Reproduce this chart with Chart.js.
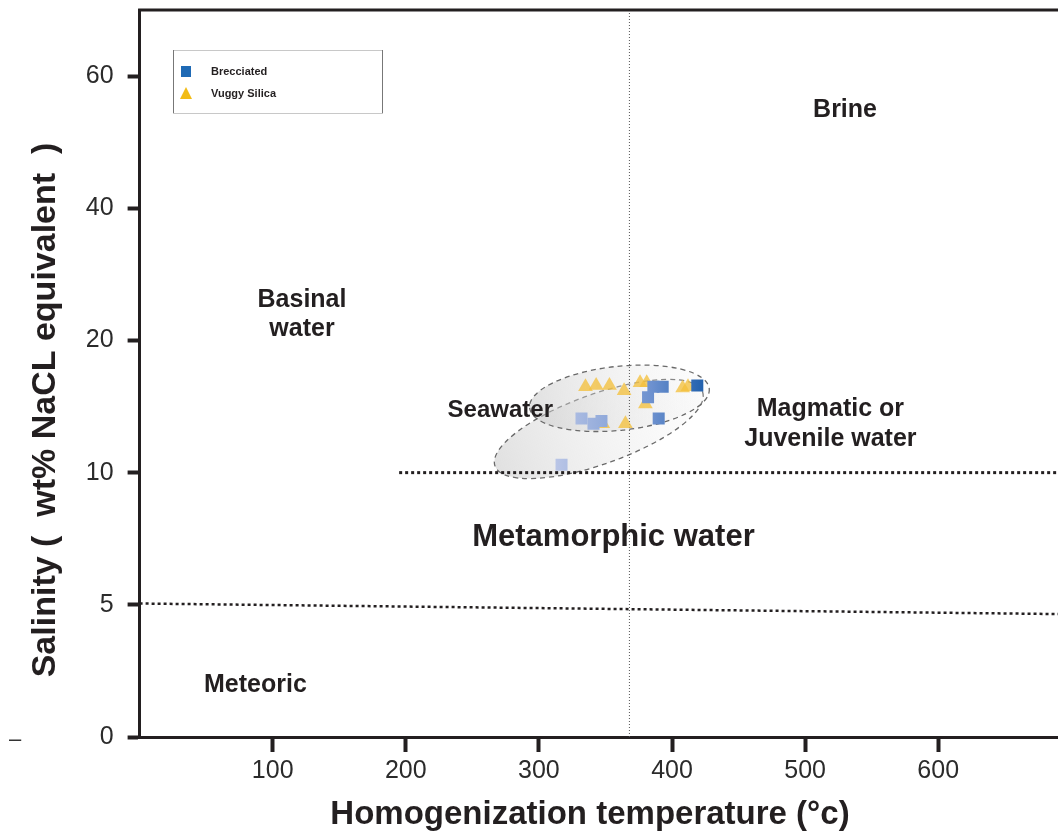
<!DOCTYPE html>
<html>
<head>
<meta charset="utf-8">
<script src="https://cdn.jsdelivr.net/npm/chart.js@4.4.1/dist/chart.umd.min.js"></script>
<style>
  html, body { margin: 0; padding: 0; background: #fff; }
  #wrap { width: 1058px; height: 836px; }
</style>
</head>
<body>
<div id="wrap"><canvas id="fluidChart" width="1058" height="836"></canvas></div>
<script>
// salinity axis is stretched: these ticks sit at equal spacing
const salinityTicks = [0, 5, 10, 20, 40, 60];
const tempTicks     = [100, 200, 300, 400, 500, 600];

// fluid inclusion data (Th in degC, salinity wt% NaCl eq.)
const brecciatedTemp = [317, 332, 341, 347, 382, 386, 393, 390, 419];
const brecciatedSal  = [10.6, 14.1, 13.7, 13.9, 15.7, 16.5, 16.5, 14.1, 16.6];
const vuggyTemp = [335, 343, 353, 364, 376, 381, 380, 348, 365, 408, 412];
const vuggySal  = [16.5, 16.6, 16.6, 16.2, 16.8, 16.8, 15.2, 13.7, 13.7, 16.4, 16.5];

// field boundaries
const line10Temp = [195, 690];
const line10Sal  = [10, 10];
const line5Temp  = [0, 690];
const line5Sal   = [5.05, 4.65];
const splitTemp  = [368, 368];
const splitSal   = [0, 70];

const FONT = 'Arial, "Liberation Sans", Helvetica, sans-serif';
const INK = '#231f20';

function salToIdx(s) {
  const t = salinityTicks;
  for (let i = 0; i < t.length - 1; i++) {
    if (s <= t[i + 1] || i === t.length - 2) return i + (s - t[i]) / (t[i + 1] - t[i]);
  }
}
const pts = (xs, ys) => xs.map((x, i) => ({ x, y: salToIdx(ys[i]) }));

// seawater fields: ends in data units, half width in px
const fields = [
  { a: [267, 10.5], b: [423, 16.1], half: 35 },
  { a: [293, 14.9], b: [428, 16.35], half: 32 }
];

const notes = [
  { text: 'Brine', t: 530, s: 54.8, size: 25 },
  { text: 'Basinal', t: 122, s: 26.1, size: 25 },
  { text: 'water', t: 122, s: 21.7, size: 25 },
  { text: 'Seawater', t: 271, s: 14.7, size: 24 },
  { text: 'Magmatic or', t: 519, s: 14.8, size: 25 },
  { text: 'Juvenile water', t: 519, s: 12.5, size: 25 },
  { text: 'Metamorphic water', t: 356, s: 7.56, size: 31 },
  { text: 'Meteoric', t: 87, s: 1.97, size: 25 }
];

function squareFill(c) {
  const xs = c.chart.scales.x;
  const a = xs ? xs.getPixelForValue(310) : NaN;
  const b = xs ? xs.getPixelForValue(425) : NaN;
  if (!isFinite(a) || !isFinite(b) || a === b) return '#5a86c8';
  const g = c.chart.ctx.createLinearGradient(a, 0, b, 0);
  g.addColorStop(0, '#bcc7e7');
  g.addColorStop(0.65, '#6d91cf');
  g.addColorStop(1, '#1f5fac');
  return g;
}

const decor = {
  id: 'decor',
  beforeDatasetsDraw(chart) {
    const { ctx, chartArea, scales: { x, y } } = chart;
    ctx.save();
    ctx.beginPath();
    ctx.rect(chartArea.left, chartArea.top, chartArea.right - chartArea.left, chartArea.bottom - chartArea.top);
    ctx.clip();
    fields.forEach(f => {
      const x1 = x.getPixelForValue(f.a[0]), y1 = y.getPixelForValue(salToIdx(f.a[1]));
      const x2 = x.getPixelForValue(f.b[0]), y2 = y.getPixelForValue(salToIdx(f.b[1]));
      const cx = (x1 + x2) / 2, cy = (y1 + y2) / 2;
      const r = Math.hypot(x2 - x1, y2 - y1) / 2;
      const ang = Math.atan2(y2 - y1, x2 - x1);
      const g = ctx.createLinearGradient(x1, y1, x2, y2);
      g.addColorStop(0, 'rgba(200,200,200,0.55)');
      g.addColorStop(1, 'rgba(240,240,240,0.15)');
      ctx.beginPath();
      ctx.ellipse(cx, cy, r, f.half, ang, 0, Math.PI * 2);
      ctx.fillStyle = g;
      ctx.fill();
      ctx.setLineDash([5, 4]);
      ctx.lineWidth = 1.3;
      ctx.strokeStyle = '#6a6a6a';
      ctx.stroke();
    });
    ctx.restore();
  },
  afterDraw(chart) {
    const { ctx, chartArea, scales: { x, y } } = chart;
    ctx.save();
    // top frame line
    ctx.strokeStyle = INK;
    ctx.lineWidth = 3;
    ctx.beginPath();
    ctx.moveTo(chartArea.left - 1.5, chartArea.top);
    ctx.lineTo(chartArea.right, chartArea.top);
    ctx.stroke();

    // field names
    ctx.fillStyle = INK;
    ctx.textAlign = 'center';
    ctx.textBaseline = 'middle';
    notes.forEach(n => {
      ctx.font = `bold ${n.size}px ${FONT}`;
      ctx.fillText(n.text, x.getPixelForValue(n.t), y.getPixelForValue(salToIdx(n.s)));
    });

    // axis titles
    ctx.font = `bold 33px ${FONT}`;
    ctx.fillText('Homogenization temperature (°c)', 590, 815);
    ctx.save();
    ctx.translate(46, 410);
    ctx.rotate(-Math.PI / 2);
    ctx.font = `bold 34px ${FONT}`;
    ctx.fillText('Salinity (  wt% NaCL equivalent  )', 0, 0);
    ctx.restore();

    ctx.font = `22px ${FONT}`;
    ctx.fillStyle = '#333';
    ctx.fillText('–', 15, 740);

    // legend box
    const lx = 173, ly = 50, lw = 209, lh = 63;
    ctx.fillStyle = '#fff';
    ctx.fillRect(lx, ly, lw, lh);
    ctx.lineWidth = 1;
    ctx.strokeStyle = '#c8c8c8';
    ctx.strokeRect(lx + 0.5, ly + 0.5, lw, lh);
    ctx.strokeStyle = '#777';
    ctx.beginPath();
    ctx.moveTo(lx + 0.5, ly); ctx.lineTo(lx + 0.5, ly + lh);
    ctx.moveTo(lx + lw + 0.5, ly); ctx.lineTo(lx + lw + 0.5, ly + lh);
    ctx.stroke();

    ctx.fillStyle = '#1f6ab5';
    ctx.fillRect(181, 66, 10, 11);
    ctx.fillStyle = '#f2bc16';
    ctx.beginPath();
    ctx.moveTo(186, 87); ctx.lineTo(192, 99); ctx.lineTo(180, 99); ctx.closePath();
    ctx.fill();

    ctx.fillStyle = INK;
    ctx.textAlign = 'left';
    ctx.font = `bold 11px ${FONT}`;
    const ds = chart.data.datasets;
    ctx.fillText(ds[0].label, 211, 72);
    ctx.fillText(ds[1].label, 211, 94);
    ctx.restore();
  }
};

new Chart(document.getElementById('fluidChart'), {
  type: 'scatter',
  data: {
    datasets: [
      { label: 'Brecciated', data: pts(brecciatedTemp, brecciatedSal), pointStyle: 'rect',
        pointRadius: 8.5, pointHoverRadius: 8.5, backgroundColor: squareFill, borderWidth: 0 },
      { label: 'Vuggy Silica', data: pts(vuggyTemp, vuggySal), pointStyle: 'triangle',
        pointRadius: 8.5, pointHoverRadius: 8.5, backgroundColor: 'rgba(243,192,62,0.78)', borderWidth: 0 },
      { label: 'line10', type: 'line', data: pts(line10Temp, line10Sal), borderColor: INK,
        borderWidth: 3, borderDash: [3, 3], pointRadius: 0, fill: false },
      { label: 'line5', type: 'line', data: pts(line5Temp, line5Sal), borderColor: INK,
        borderWidth: 2.5, borderDash: [3, 3], pointRadius: 0, fill: false },
      { label: 'split', type: 'line', data: pts(splitTemp, splitSal), borderColor: '#555',
        borderWidth: 1, borderDash: [1, 2], pointRadius: 0, fill: false }
    ]
  },
  options: {
    responsive: false,
    animation: false,
    layout: { autoPadding: false, padding: { top: 10, right: 0, left: 0, bottom: 0 } },
    plugins: { legend: { display: false }, tooltip: { enabled: false } },
    scales: {
      x: {
        type: 'linear', min: 0, max: 690,
        afterBuildTicks: s => { s.ticks = tempTicks.map(v => ({ value: v })); },
        afterFit: s => { s.height = 99; s.paddingLeft = 0; s.paddingRight = 0; },
        border: { color: INK, width: 3 },
        grid: { drawOnChartArea: false, tickLength: 15, tickWidth: 4, tickColor: INK },
        ticks: { font: { family: FONT, size: 25 }, color: '#2b2b2b', padding: 4, maxRotation: 0 }
      },
      y: {
        type: 'linear', min: 0, max: 5.5,
        afterBuildTicks: s => { s.ticks = salinityTicks.map((v, i) => ({ value: i })); },
        afterFit: s => { s.width = 139.6; s.paddingTop = 0; s.paddingBottom = 0; },
        border: { color: INK, width: 3 },
        grid: { drawOnChartArea: false, tickLength: 12, tickWidth: 4, tickColor: INK },
        ticks: { font: { family: FONT, size: 25 }, color: '#2b2b2b', padding: 14,
                 callback: v => salinityTicks[v] }
      }
    }
  },
  plugins: [decor]
});
</script>
</body>
</html>
